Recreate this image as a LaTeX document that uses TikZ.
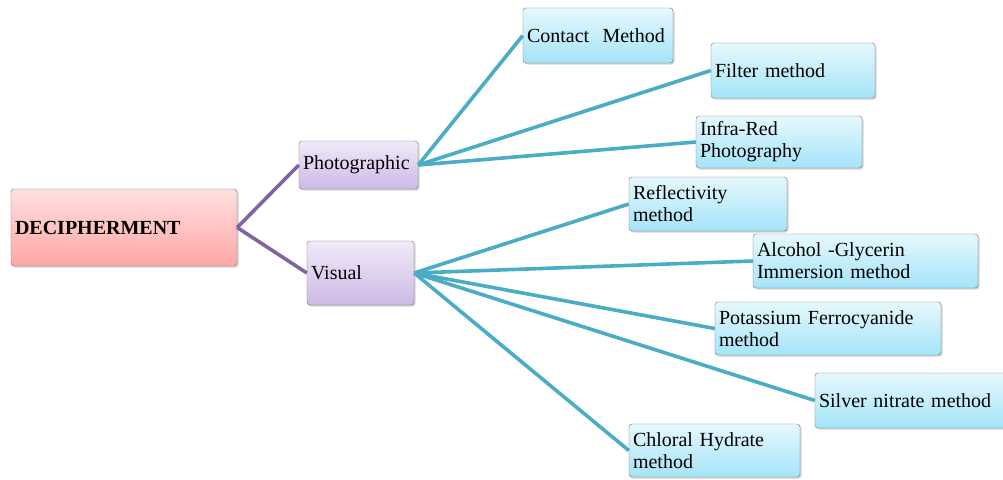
\documentclass[tikz,border=0pt]{standalone}
\usepackage{fontspec}
\setmainfont{Liberation Serif}
\usetikzlibrary{shadows}
\definecolor{roothi}{HTML}{FFE0E0}
\definecolor{rootlo}{HTML}{FFA6A6}
\definecolor{midhi}{HTML}{F1EAF8}
\definecolor{midlo}{HTML}{CDB9E6}
\definecolor{leafhi}{HTML}{E6F8FD}
\definecolor{leaflo}{HTML}{A4E4F8}
\definecolor{purpleline}{HTML}{8064A2}
\definecolor{tealline}{HTML}{4BACC6}
\tikzset{
  box/.style={draw=black!55, rounded corners=3pt, inner xsep=4pt, inner ysep=2pt,
    align=left, font=\fontsize{20}{22}\selectfont,
    drop shadow={shadow xshift=1.5pt, shadow yshift=-1.5pt, opacity=0.35}},
  rootbox/.style={box, top color=roothi, bottom color=rootlo},
  midbox/.style={box, top color=midhi, bottom color=midlo},
  leafbox/.style={box, top color=leafhi, bottom color=leaflo},
  toplink/.style={purpleline, line width=3.6pt},
  leaflink/.style={tealline, line width=3.6pt}
}
\begin{document}
\begin{tikzpicture}[x=1pt, y=-1pt]
    \useasboundingbox (0,0) rectangle (1003,479);
    % root and the two ways
    \node[rootbox, text width=218pt, minimum height=77pt, font=\fontsize{20}{22}\selectfont\bfseries] (decipher) at (124,227.5) {DECIPHERMENT};
    \node[midbox, text width=111pt, minimum height=48pt] (photo) at (358.5,165) {Photographic};
    \node[midbox, text width=99pt, minimum height=64pt] (visual) at (360.5,273) {Visual};
    % photographic methods
    \node[leafbox, text width=142pt, minimum height=55pt] (contact) at (598,35.5) {Contact\ \ Method};
    \node[leafbox, text width=156pt, minimum height=55pt] (filter) at (793,70.5) {Filter method};
    \node[leafbox, text width=158pt, minimum height=52pt] (infrared) at (779,142) {Infra-Red\\Photography};
    % visual methods
    \node[leafbox, text width=150pt, minimum height=54pt] (reflect) at (708,204) {Reflectivity\\method};
    \node[leafbox, text width=217pt, minimum height=54pt] (alcohol) at (865.5,261) {Alcohol -Glycerin\\Immersion method};
    \node[leafbox, text width=218pt, minimum height=53pt] (potass) at (828,328.5) {Potassium Ferrocyanide\\method};
    \node[leafbox, text width=185pt, minimum height=55pt] (silver) at (911.5,400.5) {Silver nitrate method};
    \node[leafbox, text width=163pt, minimum height=53pt] (chloral) at (714.5,450.5) {Chloral Hydrate\\method};
    % links
    \draw[toplink] (decipher.east) -- (photo.west);
    \draw[toplink] (decipher.east) -- (visual.west);
    \draw[leaflink] (photo.east) -- (contact.west);
    \draw[leaflink] (photo.east) -- (filter.west);
    \draw[leaflink] (photo.east) -- (infrared.west);
    \draw[leaflink] (visual.east) -- (reflect.west);
    \draw[leaflink] (visual.east) -- (alcohol.west);
    \draw[leaflink] (visual.east) -- (potass.west);
    \draw[leaflink] (visual.east) -- (silver.west);
    \draw[leaflink] (visual.east) -- (chloral.west);
\end{tikzpicture}
\end{document}
